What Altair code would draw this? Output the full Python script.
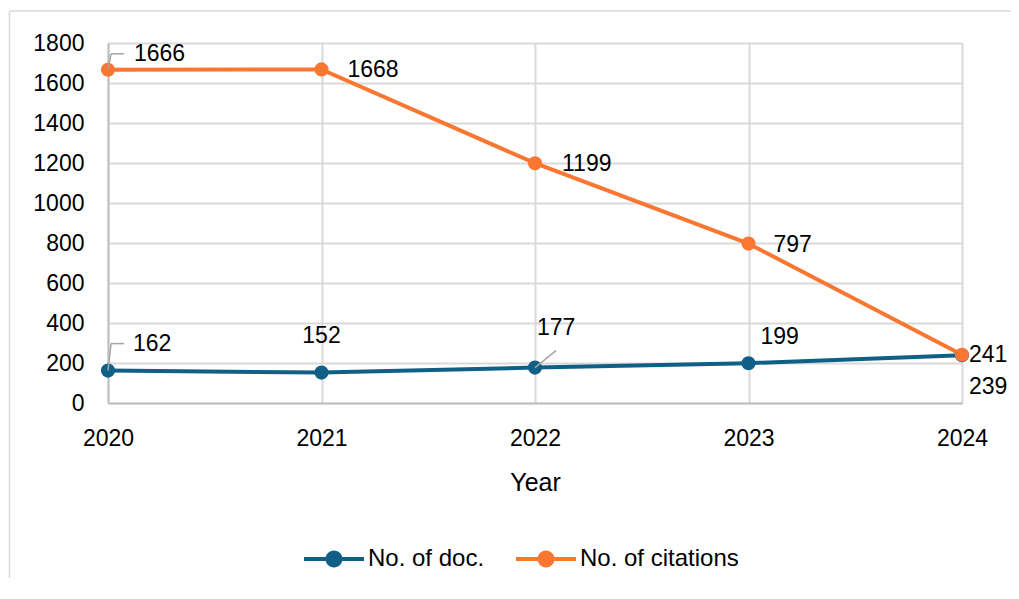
import altair as alt
import pandas as pd

years = ["2020", "2021", "2022", "2023", "2024"]
docs = [162, 152, 177, 199, 239]
citations = [1666, 1668, 1199, 797, 241]
series_names = ["No. of doc.", "No. of citations"]
colors = ["#0F5F86", "#F97731"]

rows = []
for y, v in zip(years, docs):
    rows.append({"year": y, "value": v, "series": series_names[0]})
for y, v in zip(years, citations):
    rows.append({"year": y, "value": v, "series": series_names[1]})
df = pd.DataFrame(rows)

FONT = "Liberation Sans"
GRID = "#d9d9d9"

# label placements (dx, dy, align) per series/year -- styling only
label_layout = {
    series_names[1]: {"2020": (26, -16, "left"), "2021": (26, 1, "left"), "2022": (27, 1, "left"),
                      "2023": (25, 1, "left"), "2024": (7, 0, "left")},
    series_names[0]: {"2020": (25, -27, "left"), "2021": (0, -37, "center"), "2022": (2, -40, "left"),
                      "2023": (12, -26, "left"), "2024": (7, 32, "left")},
}

x_axis = alt.Axis(title="Year", labelAngle=0, labelFontSize=23, labelFont=FONT,
                  labelColor="black", titleFont=FONT, titleFontSize=25,
                  titleFontWeight="normal", titleColor="black", titlePadding=20,
                  ticks=False, labelPadding=24, domainColor="#bfbfbf", domainWidth=2,
                  grid=True, gridColor=GRID, gridWidth=2)
y_axis = alt.Axis(title=None, values=list(range(0, 1801, 200)), format="d",
                  labelOverlap=False, labelFontSize=23,
                  labelFont=FONT, labelColor="black", ticks=False, labelPadding=24,
                  domainColor="#bfbfbf", domainWidth=2, grid=True, gridColor=GRID,
                  gridWidth=2)
x_scale = alt.Scale(type="point", padding=0, domain=years)
y_scale = alt.Scale(domain=[0, 1800], nice=False)


def X():
    return alt.X("year:O", scale=x_scale, axis=x_axis)


def Y():
    return alt.Y("value:Q", scale=y_scale, axis=y_axis)


color_scale = alt.Scale(domain=series_names, range=colors)

legend = alt.Legend(
    title=None, orient="none", legendX=214, legendY=504, direction="horizontal",
    symbolType="M-3,-0.2H3V0.2H-3Z M-0.85,0A0.85,0.85,0,1,1,0.85,0A0.85,0.85,0,1,1,-0.85,0Z",
    symbolSize=400, symbolStrokeWidth=0, labelFont=FONT, labelFontSize=24,
    labelColor="black", labelOffset=22, columnPadding=31, symbolOpacity=1,
)

frame = pd.DataFrame({"a": [0]})
border_top = alt.Chart(frame).mark_rule(color="#d9d9d9", strokeWidth=1.5).encode(
    x=alt.value(-98.5), x2=alt.value(903), y=alt.value(-32))
border_left = alt.Chart(frame).mark_rule(color="#d9d9d9", strokeWidth=1.5).encode(
    x=alt.value(-98.5), y=alt.value(-32), y2=alt.value(545))

layers = [border_top, border_left]
for s, c in zip(series_names, colors):
    layers.append(
        alt.Chart(df).transform_filter(alt.datum.series == s)
        .mark_line(strokeWidth=4, color=c).encode(x=X(), y=Y())
    )

pts = alt.Chart(df).mark_point(filled=True, size=200, opacity=1).encode(
    x=X(), y=Y(),
    color=alt.Color("series:N", scale=color_scale, legend=legend))
layers.append(pts)


# leader lines
def leader(series, year, x1, y1, x2, y2):
    return alt.Chart(df).transform_filter(
        (alt.datum.series == series) & (alt.datum.year == year)
    ).mark_rule(color="#a6a6a6", strokeWidth=1.5, xOffset=x1, yOffset=y1,
                x2Offset=x2, y2Offset=y2).encode(
        x=X(), x2="year:O", y=Y(), y2="value:Q")


layers += [
    leader(series_names[1], "2020", 0, -1, 3, -16),
    leader(series_names[1], "2020", 3, -16, 16, -16),
    leader(series_names[0], "2020", 0, 0, 3, -27),
    leader(series_names[0], "2020", 3, -27, 16, -27),
    leader(series_names[0], "2022", 0, 0, 21, -17),
]

for s in series_names:
    for yr in years:
        dx, dy, al = label_layout[s][yr]
        t = alt.Chart(df).transform_filter(
            (alt.datum.series == s) & (alt.datum.year == yr)
        ).mark_text(align=al, baseline="middle", dx=dx, dy=dy, font=FONT, fontSize=23,
                    color="black").encode(x=X(), y=Y(), text="value:Q")
        layers.append(t)

chart = alt.layer(*layers).properties(
    width=854, height=360,
    autosize=alt.AutoSizeParams(type="none"),
    padding={"left": 100, "top": 35, "right": 49, "bottom": 175},
    background="white",
).configure_view(stroke=None).configure_axisY(labelOverlap=False)

chart.save("out.html", embed_options={"renderer": "svg", "actions": False})
